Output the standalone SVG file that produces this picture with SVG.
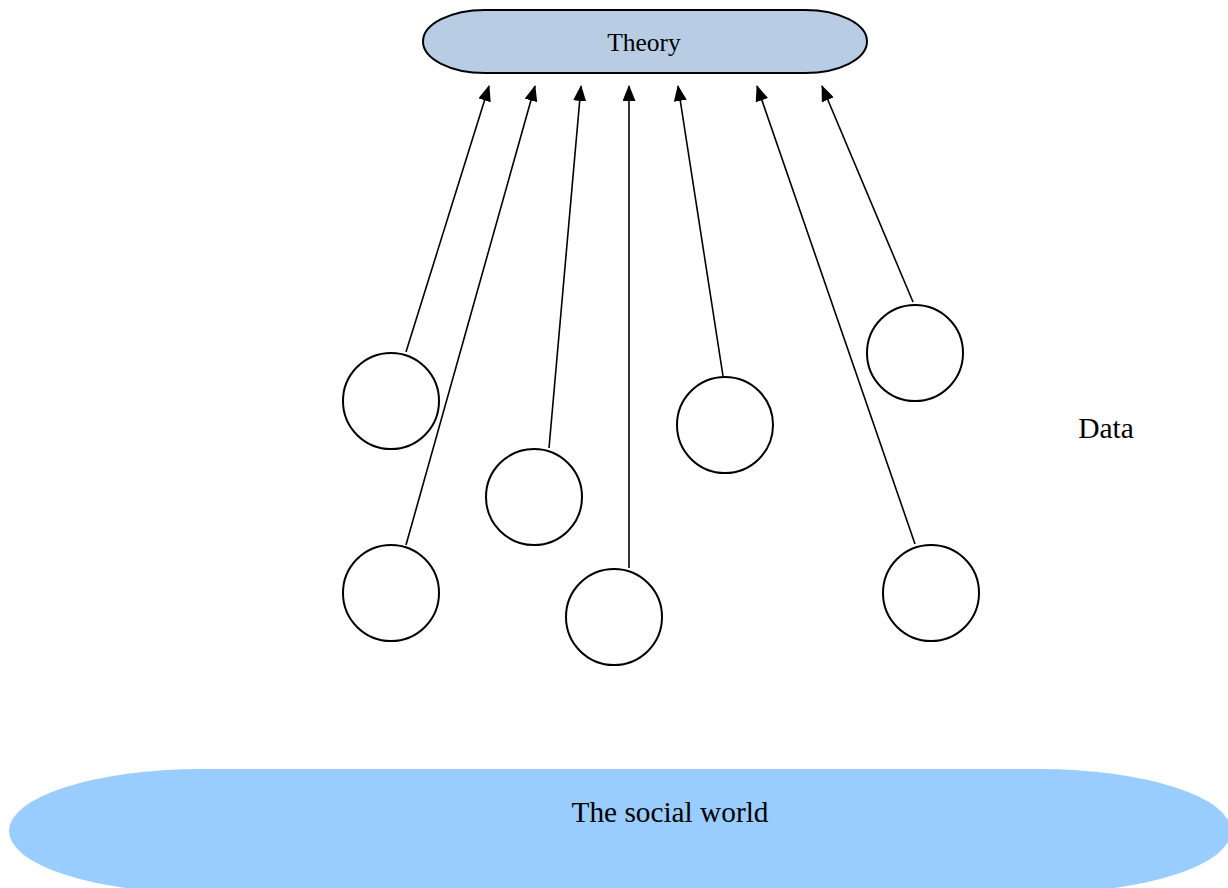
<svg xmlns="http://www.w3.org/2000/svg" width="1228" height="888" viewBox="0 0 1228 888">
<style>
.txt{font-family:"Liberation Serif","Times New Roman",serif;fill:#000}
.circ{fill:#fff;stroke:#000;stroke-width:2}
.conn{stroke:#000;stroke-width:1.6;fill:none}
</style>
<defs>
<marker id="ah" viewBox="0 0 16 13" refX="15" refY="6.5" markerWidth="16" markerHeight="13" markerUnits="userSpaceOnUse" orient="auto">
<path d="M0,0 L16,6.5 L0,13 Z" fill="#000"/>
</marker>
</defs>
<rect width="1228" height="888" fill="#fff"/>
<g id="social-world">
<rect x="9" y="769" width="1222" height="124" rx="192" ry="62" fill="#99ccff"/>
<text class="txt" x="670" y="822" font-size="29.3" text-anchor="middle">The social world</text>
</g>
<g id="theory">
<rect x="423" y="10" width="444" height="63" rx="62" ry="31.5" fill="#b8cce4" stroke="#000" stroke-width="2"/>
<text class="txt" x="644" y="51" font-size="25.5" text-anchor="middle">Theory</text>
</g>
<g id="data-label">
<text class="txt" x="1106" y="438" font-size="29.5" text-anchor="middle">Data</text>
</g>
<g id="connectors">
<line class="conn" x1="406" y1="352" x2="489" y2="86" marker-end="url(#ah)"/>
<line class="conn" x1="406" y1="545" x2="535" y2="86" marker-end="url(#ah)"/>
<line class="conn" x1="549" y1="448" x2="581" y2="86" marker-end="url(#ah)"/>
<line class="conn" x1="629" y1="568" x2="629" y2="86" marker-end="url(#ah)"/>
<line class="conn" x1="723" y1="376" x2="678" y2="86" marker-end="url(#ah)"/>
<line class="conn" x1="915" y1="544" x2="757" y2="86" marker-end="url(#ah)"/>
<line class="conn" x1="913" y1="302" x2="822" y2="86" marker-end="url(#ah)"/>
</g>
<g id="c1"><circle class="circ" cx="391" cy="401" r="48"/></g>
<g id="c2"><circle class="circ" cx="391" cy="593" r="48"/></g>
<g id="c3"><circle class="circ" cx="534" cy="497" r="48"/></g>
<g id="c4"><circle class="circ" cx="614" cy="617" r="48"/></g>
<g id="c5"><circle class="circ" cx="725" cy="425" r="48"/></g>
<g id="c6"><circle class="circ" cx="915" cy="353" r="48"/></g>
<g id="c7"><circle class="circ" cx="931" cy="593" r="48"/></g>
</svg>
